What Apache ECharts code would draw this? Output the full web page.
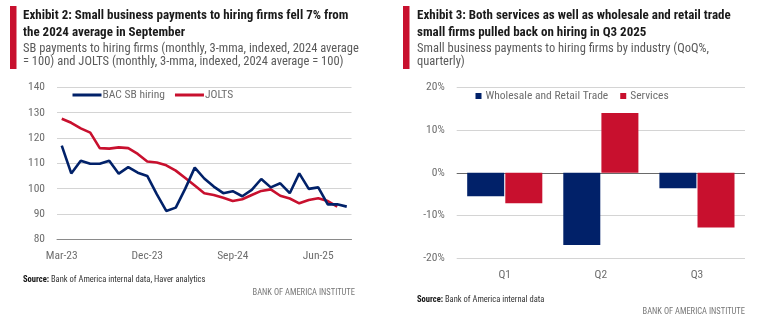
<!DOCTYPE html>
<html>
<head>
<meta charset="utf-8">
<script src="https://cdn.jsdelivr.net/npm/echarts@6/dist/echarts.min.js"></script>
<style>
  html, body { margin: 0; padding: 0; background: #fff; }
  #chart { width: 768px; height: 326px; }
</style>
</head>
<body>
<div id="chart"></div>
<script>
// Monthly series, Mar-23 .. Sep-25 (3-mma, 2024 average = 100)
const months = ['Mar-23','Apr-23','May-23','Jun-23','Jul-23','Aug-23','Sep-23','Oct-23','Nov-23','Dec-23',
  'Jan-24','Feb-24','Mar-24','Apr-24','May-24','Jun-24','Jul-24','Aug-24','Sep-24','Oct-24','Nov-24','Dec-24',
  'Jan-25','Feb-25','Mar-25','Apr-25','May-25','Jun-25','Jul-25','Aug-25','Sep-25'];
const bacHiring = [117.0, 106.0, 111.0, 109.8, 109.8, 111.0, 105.9, 108.5, 106.3, 105.0,
  97.8, 91.2, 92.5, 100.0, 108.3, 104.0, 100.8, 98.2, 99.0, 97.0, 99.5, 103.8,
  100.5, 102.1, 98.2, 106.0, 99.9, 100.5, 93.8, 93.8, 92.9];
const jolts = [127.6, 126.0, 123.8, 122.1, 116.0, 115.8, 116.3, 116.0, 113.7, 110.7,
  110.3, 109.2, 107.1, 104.2, 101.2, 98.2, 97.5, 96.4, 95.1, 95.8, 97.5, 99.1,
  99.7, 97.2, 96.1, 94.2, 95.5, 96.2, 95.1, 92.9, null];

// Quarterly QoQ % change by industry, 2025
const quarters = ['Q1', 'Q2', 'Q3'];
const wholesaleRetail = [-5.5, -16.9, -3.6];
const services = [-7.1, 14.0, -12.8];

const NAVY = '#012169';
const RED = '#c8102e';
const GRID = '#d4d4d4';
const LABEL = '#6e6e6e';
const NARROW = '"Liberation Sans Narrow", "Arial Narrow", "Roboto Condensed", "Liberation Sans", sans-serif';
const SANS = '"Liberation Sans Narrow", "Liberation Sans", sans-serif';

const chart = echarts.init(document.getElementById('chart'), null, { renderer: 'canvas' });

function headerText(x, y, text, weight, size, color) {
  return { type: 'text', x: x, y: y, style: { text: text, fill: color, font: weight + ' ' + size + 'px ' + NARROW, textVerticalAlign: 'middle' } };
}

function sourceText(x, y, text) {
  return {
    type: 'text', x: x, y: y,
    style: { text: '{b|Source:} ' + text, textVerticalAlign: 'middle',
      font: '8.5px ' + NARROW, fill: '#333',
      rich: { b: { fontWeight: 'bold', fontSize: 8.5, fontFamily: NARROW, fill: '#111' } } }
  };
}

function brandText(x, y) {
  return {
    type: 'text', x: x, y: y,
    style: { text: 'BANK OF AMERICA INSTITUTE', textAlign: 'right', textVerticalAlign: 'middle', font: '8.5px ' + NARROW, fill: '#777' }
  };
}

chart.setOption({
  backgroundColor: '#fff',
  animation: false,
  textStyle: { fontFamily: SANS },
  graphic: [
    { type: 'rect', shape: { x: 10, y: 6, width: 6.5, height: 63 }, style: { fill: RED } },
    headerText(23, 16, 'Exhibit 2: Small business payments to hiring firms fell 7% from', 'bold', 13, '#1a1a1a'),
    headerText(23, 33, 'the 2024 average in September', 'bold', 13, '#1a1a1a'),
    headerText(23, 48.5, 'SB payments to hiring firms (monthly, 3-mma, indexed, 2024 average', 'normal', 12.5, '#5a5a5a'),
    headerText(23, 62, '= 100) and JOLTS (monthly, 3-mma, indexed, 2024 average = 100)', 'normal', 12.5, '#5a5a5a'),
    { type: 'rect', shape: { x: 403, y: 6, width: 6.5, height: 63 }, style: { fill: RED } },
    headerText(417, 16, 'Exhibit 3: Both services as well as wholesale and retail trade', 'bold', 13, '#1a1a1a'),
    headerText(417, 33, 'small firms pulled back on hiring in Q3 2025', 'bold', 13, '#1a1a1a'),
    headerText(417, 48.5, 'Small business payments to hiring firms by industry (QoQ%,', 'normal', 12.5, '#5a5a5a'),
    headerText(417, 62, 'quarterly)', 'normal', 12.5, '#5a5a5a'),
    sourceText(23, 280, 'Bank of America internal data, Haver analytics'),
    brandText(355, 292.5),
    sourceText(417, 299.5, 'Bank of America internal data'),
    brandText(745, 312)
  ],
  legend: [
    {
      data: ['BAC SB hiring', 'JOLTS'],
      left: 72.5, top: 89, padding: 0, icon: 'rect', itemWidth: 29, itemHeight: 3, itemGap: 10,
      textStyle: { color: LABEL, fontSize: 11.5, fontFamily: NARROW, padding: [0, 0, 0, -4] },
      selectedMode: false
    },
    {
      data: ['Wholesale and Retail Trade', 'Services'],
      left: 475.5, top: 90, padding: 0, icon: 'rect', itemWidth: 6, itemHeight: 6, itemGap: 12,
      textStyle: { color: LABEL, fontSize: 11.5, fontFamily: NARROW, padding: [0, 0, 0, -1] },
      selectedMode: false
    }
  ],
  grid: [
    { left: 57, top: 87.3, width: 294.5, height: 152 },
    { left: 456.7, top: 87.3, width: 288.3, height: 171 }
  ],
  xAxis: [
    {
      type: 'category', gridIndex: 0, data: months, boundaryGap: true,
      axisLine: { lineStyle: { color: '#8a8a8a', width: 1 } },
      axisTick: { show: false },
      axisLabel: { interval: 8, color: LABEL, fontSize: 11.5, fontFamily: NARROW, margin: 11 }
    },
    {
      type: 'category', gridIndex: 1, data: quarters,
      axisLine: { show: false, onZero: false },
      axisTick: { show: false },
      axisLabel: { color: LABEL, fontSize: 11.5, fontFamily: NARROW, margin: 11 }
    }
  ],
  yAxis: [
    {
      type: 'value', gridIndex: 0, min: 80, max: 140, interval: 10,
      axisLine: { show: false }, axisTick: { show: false },
      axisLabel: { color: LABEL, fontSize: 11.5, fontFamily: NARROW, margin: 12 },
      splitLine: { lineStyle: { color: GRID, width: 1 } }
    },
    {
      type: 'value', gridIndex: 1, min: -20, max: 20, interval: 10,
      axisLine: { show: false }, axisTick: { show: false },
      axisLabel: { color: LABEL, fontSize: 11.5, fontFamily: NARROW, margin: 12, formatter: '{value}%' },
      splitLine: { lineStyle: { color: [GRID, GRID, '#6a6a6a', GRID, GRID], width: 1 } }
    }
  ],
  series: [
    {
      name: 'BAC SB hiring', type: 'line', xAxisIndex: 0, yAxisIndex: 0, data: bacHiring,
      showSymbol: false, symbol: 'none', z: 3,
      lineStyle: { color: NAVY, width: 2.6 }, itemStyle: { color: NAVY }
    },
    {
      name: 'JOLTS', type: 'line', xAxisIndex: 0, yAxisIndex: 0, data: jolts,
      showSymbol: false, symbol: 'none', z: 2,
      lineStyle: { color: RED, width: 2.6 }, itemStyle: { color: RED }
    },
    {
      name: 'Wholesale and Retail Trade', type: 'bar', xAxisIndex: 1, yAxisIndex: 1, data: wholesaleRetail,
      barWidth: 37, barGap: '3%', itemStyle: { color: NAVY }
    },
    {
      name: 'Services', type: 'bar', xAxisIndex: 1, yAxisIndex: 1, data: services,
      barWidth: 37, barGap: '3%', itemStyle: { color: RED }
    }
  ]
});
</script>
</body>
</html>
